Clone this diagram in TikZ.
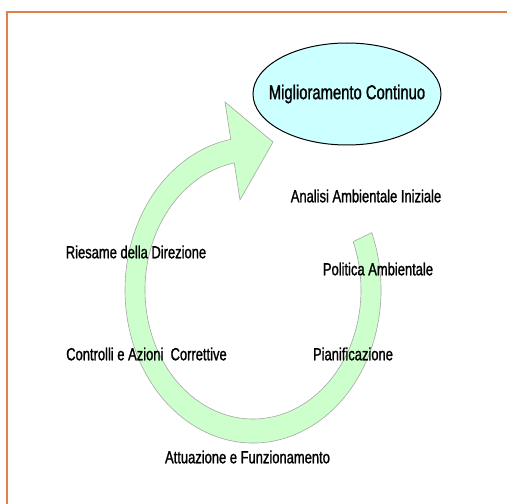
\documentclass[tikz,border=0pt]{standalone}
\usepackage{fontspec}
\setmainfont{Liberation Sans}[FakeStretch=0.74,FakeBold=1.2]
\usetikzlibrary{shapes.geometric}
\definecolor{bordo}{HTML}{E0804A}
\definecolor{ciano}{HTML}{CCFFFF}
\definecolor{verdino}{HTML}{CCFFCC}
\tikzset{
    etichetta/.style={font=\fontsize{17.5}{17.5}\selectfont, inner sep=0pt},
}
\begin{document}
\begin{tikzpicture}[x=1pt,y=1pt]
    \useasboundingbox (0,0) rectangle (507,504);
    \fill[white] (0,0) rectangle (507,504);
    \draw[bordo,line width=2pt] (7,0)--(7,492)--(507,492);
    % freccia circolare
    \filldraw[fill=verdino,draw=gray!70,line width=0.6pt] (371.68,271.31)
        arc[start angle=22,end angle=-260,x radius=128,y radius=153]
        -- (225,402) -- (273,362) -- (240,304) -- (234.25,341.04)
        arc[start angle=100,end angle=382,x radius=108,y radius=129] -- cycle;
    \node[ellipse,draw,line width=1pt,fill=ciano,minimum width=188pt,minimum height=102pt,
        inner xsep=-12pt,inner ysep=0pt,font=\fontsize{20}{20}\selectfont] (mc) at (347,410) {Miglioramento Continuo};
    \node[etichetta] (aai) at (366,308) {Analisi Ambientale Iniziale};
    \node[etichetta] (rd) at (136,252) {Riesame della Direzione};
    \node[etichetta] (pa) at (378,235) {Politica Ambientale};
    \node[etichetta] (cac) at (146.5,150) {Controlli e Azioni\ \ Correttive};
    \node[etichetta] (pf) at (353,150) {Pianificazione};
    \node[etichetta] (af) at (247.5,47) {Attuazione e Funzionamento};
\end{tikzpicture}
\end{document}
